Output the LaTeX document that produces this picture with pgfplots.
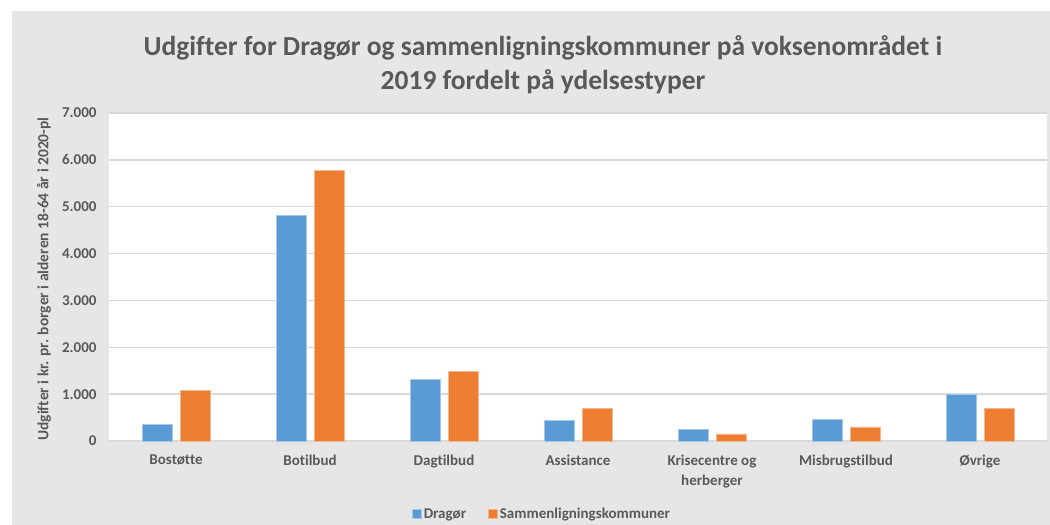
\documentclass[border=0pt]{standalone}
\usepackage{pgfplots}
\pgfplotsset{compat=1.18}
\usepackage{fontspec}
\setmainfont{Carlito}[Ligatures={NoCommon}]
\definecolor{txt}{HTML}{595959}
\definecolor{bgc}{HTML}{E6E6E6}
\definecolor{gridc}{HTML}{D9D9D9}
\definecolor{cblue}{HTML}{5B9BD5}
\definecolor{corange}{HTML}{ED7D31}
\begin{document}
\begin{tikzpicture}
\path[use as bounding box] (0pt,0pt) rectangle (1050pt,-525pt);
\fill[white] (0pt,0pt) rectangle (1050pt,-525pt);
\fill[bgc] (12pt,-11pt) rectangle (1050pt,-525pt);
\node[font=\bfseries\fontsize{27.5}{34}\selectfont, text=txt, align=center] at (543pt,-65pt) {Udgifter for Dragør og sammenligningskommuner på voksenområdet i\\2019 fordelt på ydelsestyper};
\begin{axis}[
  at={(109pt,-441pt)}, anchor=south west,
  scale only axis, width=938pt, height=328pt,
  xmin=-0.5, xmax=6.5, ymin=0, ymax=7000,
  ybar=8pt, bar width=30pt,
  axis background/.style={fill=white},
  axis line style={draw=none},
  major tick length=0pt,
  ymajorgrids, grid style={gridc, line width=1.5pt},
  xtick={0,...,6},
  xticklabels={Bostøtte,Botilbud,Dagtilbud,Assistance,{Krisecentre og\\herberger},Misbrugstilbud,Øvrige},
  ytick={0,1000,2000,3000,4000,5000,6000,7000},
  yticklabels={0,1.000,2.000,3.000,4.000,5.000,6.000,7.000},
  tick label style={font=\bfseries\fontsize{15}{20}\selectfont, text=txt},
  xticklabel style={align=center, yshift=-10pt},
  yticklabel style={xshift=-9pt},
  legend style={at={(0.4616,-0.2226)}, anchor=center, draw=none, fill=none,
    font=\bfseries\fontsize{15}{18}\selectfont, text=txt, legend columns=2,
    /tikz/every even column/.append style={column sep=20pt}},
  legend image code/.code={\fill[#1] (0pt,-4.5pt) rectangle (9pt,4.5pt);},
]
\addplot[fill=cblue, draw=cblue!55!white, line width=0.8pt] coordinates {(0,350)(1,4820)(2,1320)(3,440)(4,250)(5,460)(6,1000)};
\addlegendentry{Dragør}
\addplot[fill=corange, draw=corange!55!white, line width=0.8pt] coordinates {(0,1070)(1,5780)(2,1490)(3,690)(4,150)(5,300)(6,690)};
\addlegendentry{Sammenligningskommuner}
\end{axis}
\node[rotate=90, font=\bfseries\fontsize{15.5}{18}\selectfont, text=txt] at (44pt,-279pt) {Udgifter i kr. pr. borger i alderen 18-64 år i 2020-pl};
\end{tikzpicture}
\end{document}
